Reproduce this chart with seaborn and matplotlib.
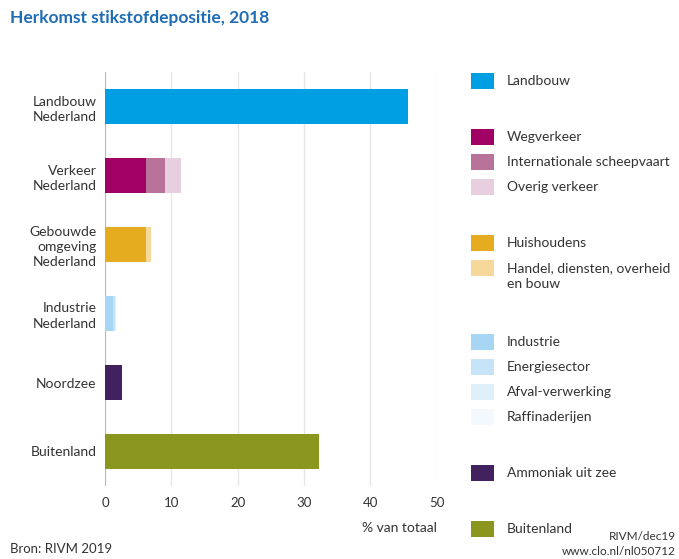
import matplotlib
matplotlib.use("Agg")
import matplotlib.pyplot as plt
from matplotlib.patches import Rectangle
import seaborn as sns
import pandas as pd

categories = ["Landbouw\nNederland", "Verkeer\nNederland", "Gebouwde\nomgeving\nNederland",
              "Industrie\nNederland", "Noordzee", "Buitenland"]
components = ["Landbouw", "Wegverkeer", "Internationale scheepvaart", "Overig verkeer",
              "Huishoudens", "Handel, diensten, overheid\nen bouw",
              "Industrie", "Energiesector", "Afval-verwerking", "Raffinaderijen",
              "Ammoniak uit zee", "Buitenland"]
component_category = [0, 1, 1, 1, 2, 2, 3, 3, 3, 3, 4, 5]
values = [45.7, 6.2, 2.9, 2.3, 6.2, 0.7, 1.2, 0.25, 0.15, 0.1, 2.5, 32.2]
colors = ["#009fe3", "#a10064", "#b9739b", "#e8cfe0", "#e6ac1f", "#f6d89a",
          "#a6d6f4", "#c6e4f8", "#e0f0fb", "#f4f9fd", "#42215f", "#8b961f"]
xticks = [0, 10, 20, 30, 40, 50]

title = "Herkomst stikstofdepositie, 2018"
xlabel = "% van totaal"
source = "Bron: RIVM 2019"
credit = "RIVM/dec19\nwww.clo.nl/nl050712"

# cumulative ends of each stacked segment
rows = []
running = {}
for comp, ci, v in zip(components, component_category, values):
    start = running.get(ci, 0.0)
    running[ci] = start + v
    rows.append({"cat": categories[ci], "comp": comp, "end": start + v})
df = pd.DataFrame(rows)

sns.set_style("white")
plt.rcParams["font.family"] = ["Lato", "DejaVu Sans"]
text_col = "#333333"

fig = plt.figure(figsize=(6.79, 5.59), dpi=100)
ax = fig.add_axes([105 / 679, 1 - 486 / 559, 331.7 / 679, 414 / 559])

palette = dict(zip(components, colors))
sns.barplot(data=df, x="end", y="cat", hue="comp", hue_order=components[::-1],
            palette=palette, order=categories, dodge=False, width=0.5,
            saturation=1, legend=False, ax=ax, linewidth=0, zorder=3)

ax.set_xlim(0, 50)
ax.set_ylim(5.5, -0.5)
ax.set_xticks(xticks)
ax.set_xticklabels([str(t) for t in xticks], fontsize=9.5, color=text_col)
for t in xticks:
    if t == 0:
        ax.axvline(t, color="#b8b8b8", lw=1.6, zorder=1)
    else:
        ax.axvline(t, color="#e6e6e6", lw=1.0, zorder=1)
ax.tick_params(axis="x", length=0, pad=8)
ax.tick_params(axis="y", length=0, pad=6)
ax.set_yticks(range(len(categories)))
ax.set_yticklabels(categories, fontsize=10, color=text_col, linespacing=1.3, ha="right")
for s in ax.spines.values():
    s.set_visible(False)
ax.set_xlabel("")
ax.set_ylabel("")

fig.text(436.7 / 679, 1 - 528 / 559, xlabel, ha="right", va="center", fontsize=10, color=text_col)
fig.text(10 / 679, 1 - 18 / 559, title, ha="left", va="center", fontsize=12.5,
         fontweight="bold", color="#1f6db5")
fig.text(10 / 679, 1 - 549 / 559, source, ha="left", va="center", fontsize=9.5, color=text_col)
fig.text(676 / 679, 1 - 544 / 559, credit, ha="right", va="center", fontsize=8.5,
         color=text_col, linespacing=1.35)

# legend
legend_y = [81, 137, 162, 187, 243, 268, 342, 367, 392, 417, 473, 529]
for comp, col, y in zip(components, colors, legend_y):
    fig.add_artist(Rectangle((471 / 679, 1 - (y + 8) / 559), 23 / 679, 16 / 559,
                             transform=fig.transFigure, facecolor=col, edgecolor="none"))
    if "\n" in comp:
        fig.text(507 / 679, 1 - (y - 6) / 559, comp, ha="left", va="top",
                 fontsize=10, color=text_col, linespacing=1.4)
    else:
        fig.text(507 / 679, 1 - y / 559, comp, ha="left", va="center",
                 fontsize=10, color=text_col)

fig.savefig("out.png", dpi=100)
